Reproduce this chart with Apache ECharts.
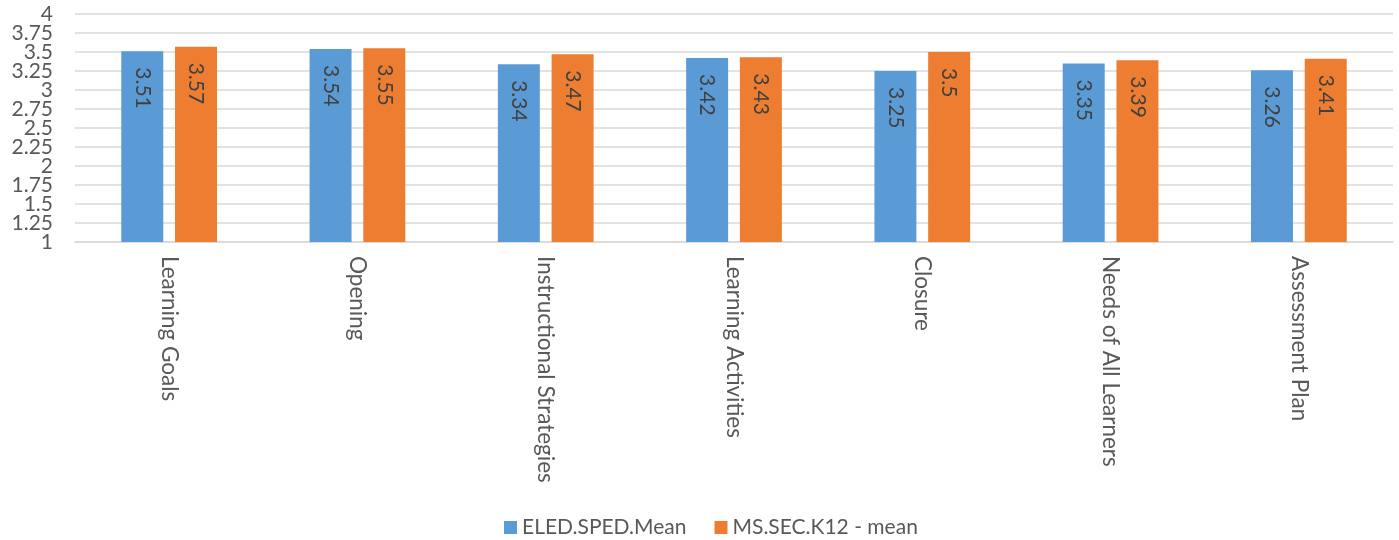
<!DOCTYPE html>
<html><head><meta charset="utf-8">
<script src="https://cdn.jsdelivr.net/npm/echarts@6/dist/echarts.min.js"></script>
<style>html,body{margin:0;padding:0;background:#fff}#c{width:1399px;height:540px}</style>
</head><body><div id="c"></div>
<script>
const categories = ["Learning Goals","Opening","Instructional Strategies","Learning Activities","Closure","Needs of All Learners","Assessment Plan"];
const eledSped = [3.51,3.54,3.34,3.42,3.25,3.35,3.26];
const msSecK12 = [3.57,3.55,3.47,3.43,3.5,3.39,3.41];
const seriesNames = ["ELED.SPED.Mean","MS.SEC.K12 - mean"];
const yTickLabels = ["1","1.25","1.5","1.75","2","2.25","2.5","2.75","3","3.25","3.5","3.75","4"];
const FONT = "Lato, 'Open Sans', sans-serif";
const chart = echarts.init(document.getElementById('c'));
const lbl = {
  show: true, position: 'insideTop', rotate: -90, align: 'left', verticalAlign: 'middle',
  distance: 16, color: '#404040', fontSize: 21, fontFamily: FONT
};
chart.setOption({
  animation: false,
  grid: {left: 75, right: 6, top: 14, bottom: 298, containLabel: false},
  legend: {
    top: 512, left: 499, itemWidth: 13, itemHeight: 13, itemGap: 28,
    icon: 'rect',
    textStyle: {color: '#595959', fontSize: 21, fontFamily: FONT},
    data: seriesNames
  },
  xAxis: {
    type: 'category', data: categories,
    axisLine: {lineStyle: {color: '#D9D9D9', width: 1.5}},
    axisTick: {show: false},
    axisLabel: {rotate: -90, color: '#595959', fontSize: 22.5, fontFamily: FONT, margin: 14, interval: 0}
  },
  yAxis: [{
    type: 'value', min: 1, max: 4, interval: 0.25,
    axisLine: {show: false}, axisTick: {show: false},
    splitLine: {lineStyle: {color: '#D9D9D9', width: 1.5}},
    axisLabel: {show: false}
  }, {
    type: 'category', data: yTickLabels, boundaryGap: false, position: 'left',
    axisLine: {show: false}, axisTick: {show: false}, splitLine: {show: false},
    axisLabel: {color: '#595959', fontSize: 21, fontFamily: FONT, margin: 22, interval: 0}
  }],
  series: [
    {name: seriesNames[0], type: 'bar', data: eledSped, barWidth: '22.3%', barGap: '28%',
     itemStyle: {color: '#5B9BD5'}, label: lbl},
    {name: seriesNames[1], type: 'bar', data: msSecK12, barWidth: '22.3%',
     itemStyle: {color: '#ED7D31'}, label: lbl}
  ]
});
</script></body></html>
